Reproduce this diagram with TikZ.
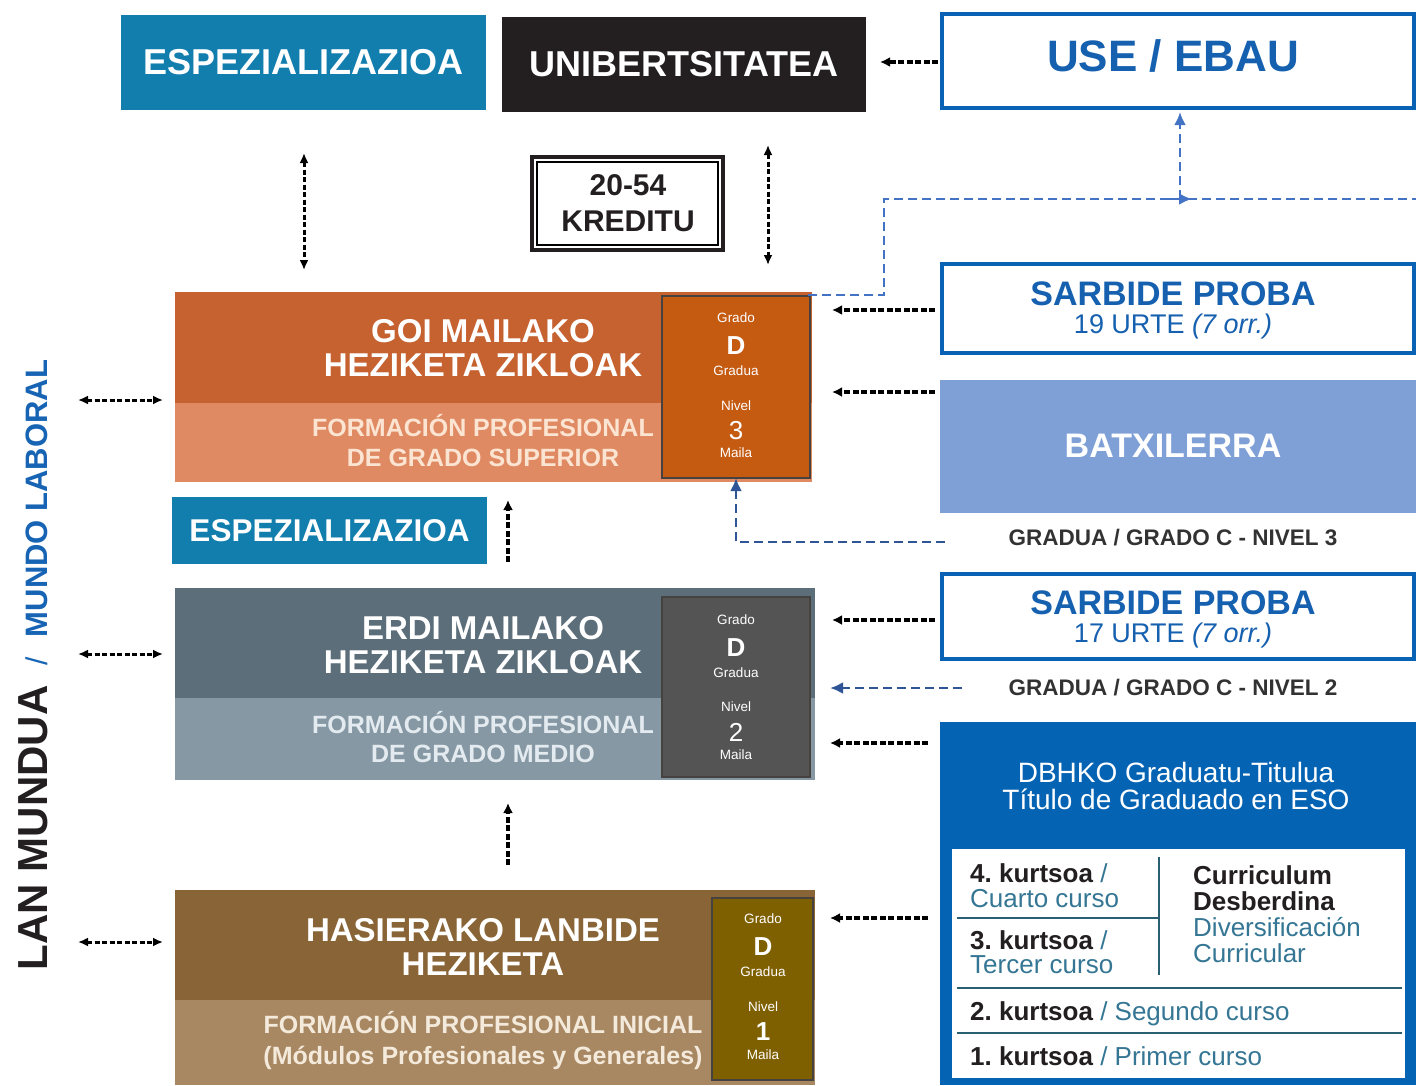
\documentclass[tikz,border=0pt]{standalone}
\usepackage{fontspec}
\setmainfont{Liberation Sans}
\usetikzlibrary{arrows.meta}
\frenchspacing
\newcommand\fsz[2]{\fontsize{#1}{#2}\selectfont}
\definecolor{cTeal}{RGB}{17,126,174}
\definecolor{cBlack}{RGB}{35,31,32}
\definecolor{cUse}{RGB}{10,98,180}
\definecolor{cUseT}{RGB}{22,96,176}
\definecolor{cBlueDash}{RGB}{68,114,196}
\definecolor{cDarkDash}{RGB}{47,85,151}
\definecolor{cGoiT}{RGB}{198,97,48}
\definecolor{cGoiB}{RGB}{223,138,98}
\definecolor{cGoiG}{RGB}{197,90,17}
\definecolor{cGoiTx}{RGB}{252,228,210}
\definecolor{cErdiT}{RGB}{91,110,122}
\definecolor{cErdiB}{RGB}{133,152,163}
\definecolor{cErdiG}{RGB}{84,84,84}
\definecolor{cErdiTx}{RGB}{228,235,240}
\definecolor{cHasT}{RGB}{137,100,54}
\definecolor{cHasB}{RGB}{168,136,98}
\definecolor{cHasG}{RGB}{127,96,0}
\definecolor{cHasTx}{RGB}{244,234,220}
\definecolor{cGB}{RGB}{70,66,64}
\definecolor{cBatx}{RGB}{127,160,214}
\definecolor{cDbh}{RGB}{5,99,180}
\definecolor{cGray}{RGB}{50,50,50}
\definecolor{cTbl}{RGB}{52,118,148}
\definecolor{cTblLine}{RGB}{40,95,115}
\definecolor{cLab}{RGB}{24,100,180}
\begin{document}
\begin{tikzpicture}[x=1pt,y=-1pt,
  blk/.style={inner sep=0pt,outer sep=0pt,anchor=north west},
  txt/.style={inner sep=0pt,outer sep=0pt,align=center},
  darr/.style={line width=3.4pt,dash pattern=on 6pt off 2.5pt,-{Latex[length=10pt,width=10pt]}},
  dbl/.style={line width=3pt,dash pattern=on 5pt off 2.5pt,{Latex[length=10pt,width=9pt]}-{Latex[length=10pt,width=9pt]}},
  bdash/.style={cBlueDash,line width=2.6pt,dash pattern=on 9pt off 5pt},
  ddash/.style={cDarkDash,line width=2.6pt,dash pattern=on 9pt off 5pt,-{Latex[length=13pt,width=12pt]}},
  gbox/.style={blk,draw=cGB,line width=2pt},
  gsm/.style={txt,text=white,font=\fsz{13.5}{14}},
  gbig/.style={txt,text=white,font=\bfseries\fsz{26}{26}},
  gnum/.style={txt,text=white,font=\fsz{26}{26}},
  rbox/.style={blk,draw=cUse,line width=4pt,fill=white},
  rtitle/.style={txt,text=cUseT,font=\bfseries\fsz{34}{34}},
  rsub/.style={txt,text=cUseT,font=\fsz{27}{27}},
  gradl/.style={txt,text=cGray,font=\bfseries\fsz{22.5}{22.5}},
  ttx/.style={inner sep=0pt,anchor=base west,font=\fsz{26}{26},text=cTbl},
  tline/.style={cTblLine,line width=2pt},
  bigw/.style={txt,text=white,font=\bfseries\fsz{33}{34}},
]
\useasboundingbox (0,0) rectangle (1416,1085);

% ---------- top row ----------
\node[blk,fill=cTeal,minimum width=365,minimum height=95,text=white,font=\bfseries\fsz{36}{36}] (espT) at (121,15) {ESPEZIALIZAZIOA};
\node[blk,fill=cBlack,minimum width=364,minimum height=95,text=white,font=\bfseries\fsz{36}{36}] (uni) at (502,17) {UNIBERTSITATEA};
\node[rbox,minimum width=472,minimum height=94] (use) at (942,14) {};
\node[txt,text=cUseT,font=\bfseries\fsz{44}{44}] (useT) at (1173,56) {USE / EBAU};
\coordinate (ua) at (938,62); \coordinate (ub) at (880,62);
\draw[darr] (ua) -- (ub);

% kreditu
\node[blk,draw=cBlack,line width=4pt,minimum width=191,minimum height=93] (kred) at (532,157) {};
\draw[line width=1.3pt] ([shift={(5,5)}]kred.north west) rectangle ([shift={(-5,-5)}]kred.south east);
\node[txt,text=cBlack,font=\bfseries\fsz{30}{36}] (kredT) at (628,203) {20-54\\KREDITU};

\coordinate (a1s) at (304,153); \coordinate (a1e) at (304,270);
\draw[dbl] (a1s) -- (a1e);
\coordinate (a2s) at (768,145); \coordinate (a2e) at (768,265);
\draw[dbl] (a2s) -- (a2e);

% ---------- goi mailako ----------
\node[blk,fill=cGoiT,minimum width=637,minimum height=111] (goiT) at (175,292) {};
\node[blk,fill=cGoiB,minimum width=637,minimum height=79] (goiB) at (175,403) {};
\node[bigw] (goiTt) at (483,348) {GOI MAILAKO\\HEZIKETA ZIKLOAK};
\node[txt,text=cGoiTx,font=\bfseries\fsz{25}{30}] (goiBt) at (483,441) {FORMACIÓN PROFESIONAL\\DE GRADO SUPERIOR};
\node[gbox,fill=cGoiG,minimum width=148,minimum height=182] (goiG) at (662,296) {};
\node[gsm] (goiG1) at (736,318) {Grado};
\node[gbig] (goiG2) at (736,346) {D};
\node[gsm] (goiG3) at (736,371) {Gradua};
\node[gsm] (goiG4) at (736,406) {Nivel};
\node[gnum] (goiG5) at (736,431) {3};
\node[gsm] (goiG6) at (736,453) {Maila};

% blue dashed route to USE
\coordinate (bl0) at (808,295);
\coordinate (bl1) at (884,295);
\coordinate (bl2) at (884,199);
\coordinate (bl3) at (1416,199);
\draw[bdash] (bl0) -- (bl1) -- (bl2) -- (bl3);
\coordinate (bj) at (1180,199);
\coordinate (bja) at (1165,199); \coordinate (bjb) at (1192,199);
\draw[cBlueDash,line width=2.6pt,-{Latex[length=13pt,width=12pt]}] (bja) -- (bjb);
\coordinate (bup) at (1180,112);
\draw[bdash,-{Latex[length=13pt,width=12pt]}] (bj) -- (bup);

% sarbide 19
\node[rbox,minimum width=472,minimum height=89] (sar1) at (942,264) {};
\node[rtitle] (sar1a) at (1173,294) {SARBIDE PROBA};
\node[rsub] (sar1b) at (1173,327) {19 URTE \textit{(7 orr.)}};
\coordinate (s1a) at (935,310); \coordinate (s1b) at (832,310);
\draw[darr] (s1a) -- (s1b);

% batxilerra
\node[blk,fill=cBatx,minimum width=476,minimum height=133] (batx) at (940,380) {};
\node[txt,text=white,font=\bfseries\fsz{34}{34}] (batxT) at (1173,446) {BATXILERRA};
\coordinate (b1a) at (935,392); \coordinate (b1b) at (832,392);
\draw[darr] (b1a) -- (b1b);

\node[gradl] (gr3) at (1173,538) {GRADUA / GRADO C - NIVEL 3};
\coordinate (g3a) at (945,542); \coordinate (g3b) at (736,542);
\draw[ddash] (g3a) -- (g3b) -- (goiG.south);

% left arrows
\coordinate (l1a) at (78,400); \coordinate (l1b) at (163,400);
\draw[dbl] (l1a) -- (l1b);
\coordinate (l2a) at (78,654); \coordinate (l2b) at (163,654);
\draw[dbl] (l2a) -- (l2b);
\coordinate (l3a) at (78,942); \coordinate (l3b) at (163,942);
\draw[dbl] (l3a) -- (l3b);

% middle espezializazioa
\node[blk,fill=cTeal,minimum width=315,minimum height=67,text=white,font=\bfseries\fsz{31.5}{32}] (espM) at (172,497) {ESPEZIALIZAZIOA};
\coordinate (m1a) at (508,562); \coordinate (m1b) at (508,500);
\draw[darr] (m1a) -- (m1b);

% ---------- erdi mailako ----------
\node[blk,fill=cErdiT,minimum width=640,minimum height=110] (erdiT) at (175,588) {};
\node[blk,fill=cErdiB,minimum width=640,minimum height=82] (erdiB) at (175,698) {};
\node[bigw] (erdiTt) at (483,645) {ERDI MAILAKO\\HEZIKETA ZIKLOAK};
\node[txt,text=cErdiTx,font=\bfseries\fsz{25}{29}] (erdiBt) at (483,737) {FORMACIÓN PROFESIONAL\\DE GRADO MEDIO};
\node[gbox,fill=cErdiG,minimum width=148,minimum height=180] (erdiG) at (662,597) {};
\node[gsm] (erdiG1) at (736,620) {Grado};
\node[gbig] (erdiG2) at (736,648) {D};
\node[gsm] (erdiG3) at (736,673) {Gradua};
\node[gsm] (erdiG4) at (736,707) {Nivel};
\node[gnum] (erdiG5) at (736,732) {2};
\node[gsm] (erdiG6) at (736,755) {Maila};

% sarbide 17
\node[rbox,minimum width=472,minimum height=85] (sar2) at (942,574) {};
\node[rtitle] (sar2a) at (1173,603) {SARBIDE PROBA};
\node[rsub] (sar2b) at (1173,636) {17 URTE \textit{(7 orr.)}};
\coordinate (s2a) at (935,620); \coordinate (s2b) at (832,620);
\draw[darr] (s2a) -- (s2b);

\node[gradl] (gr2) at (1173,688) {GRADUA / GRADO C - NIVEL 2};
\coordinate (g2a) at (962,688); \coordinate (g2b) at (830,688);
\draw[ddash] (g2a) -- (g2b);

\coordinate (e3a) at (928,743); \coordinate (e3b) at (830,743);
\draw[darr] (e3a) -- (e3b);

% ---------- DBHKO ----------
\node[blk,fill=cDbh,minimum width=476,minimum height=363] (dbh) at (940,722) {};
\node[txt,text=white,font=\fsz{28}{27}] (dbhT) at (1176,786) {DBHKO Graduatu-Titulua\\Título de Graduado en ESO};
\node[blk,fill=white,minimum width=453,minimum height=229] (dpan) at (952,849) {};
\draw[tline] (1159,857) -- (1159,975);
\draw[tline] (957,918) -- (1158,918);
\draw[tline] (957,988) -- (1402,988);
\draw[tline] (957,1033) -- (1402,1033);
\node[ttx] (k4a) at (970,882) {\textbf{\color{cBlack}4. kurtsoa} /};
\node[ttx] (k4b) at (970,907) {Cuarto curso};
\node[ttx] (k3a) at (970,949) {\textbf{\color{cBlack}3. kurtsoa} /};
\node[ttx] (k3b) at (970,973) {Tercer curso};
\node[ttx,text=cBlack,font=\bfseries\fsz{26}{26}] (cd1) at (1193,884) {Curriculum};
\node[ttx,text=cBlack,font=\bfseries\fsz{26}{26}] (cd2) at (1193,910) {Desberdina};
\node[ttx] (cd3) at (1193,936) {Diversificación};
\node[ttx] (cd4) at (1193,962) {Curricular};
\node[ttx] (k2) at (970,1020) {\textbf{\color{cBlack}2. kurtsoa} / Segundo curso};
\node[ttx] (k1) at (970,1065) {\textbf{\color{cBlack}1. kurtsoa} / Primer curso};

% ---------- hasierako ----------
\coordinate (m2a) at (508,865); \coordinate (m2b) at (508,803);
\draw[darr] (m2a) -- (m2b);
\node[blk,fill=cHasT,minimum width=640,minimum height=110] (hasT) at (175,890) {};
\node[blk,fill=cHasB,minimum width=640,minimum height=85] (hasB) at (175,1000) {};
\node[bigw] (hasTt) at (483,947) {HASIERAKO LANBIDE\\HEZIKETA};
\node[txt,text=cHasTx,font=\bfseries\fsz{25}{31}] (hasBt) at (483,1040) {FORMACIÓN PROFESIONAL INICIAL\\(Módulos Profesionales y Generales)};
\node[gbox,fill=cHasG,minimum width=101,minimum height=182] (hasG) at (712,898) {};
\node[gsm] (hasG1) at (763,919) {Grado};
\node[gbig] (hasG2) at (763,947) {D};
\node[gsm] (hasG3) at (763,972) {Gradua};
\node[gsm] (hasG4) at (763,1007) {Nivel};
\node[gbig] (hasG5) at (763,1032) {1};
\node[gsm] (hasG6) at (763,1055) {Maila};
\coordinate (h1a) at (928,918); \coordinate (h1b) at (830,918);
\draw[darr] (h1a) -- (h1b);

% ---------- left label ----------
\node[rotate=90,anchor=base,inner sep=0pt] (lab) at (47,665)
  {{\bfseries\fsz{42}{42}\color{cBlack}LAN MUNDUA}\hspace{20pt}{\fsz{30}{30}\color{cLab}/}\hspace{20pt}{\bfseries\fsz{31}{31}\color{cLab}MUNDO LABORAL}};
\end{tikzpicture}
\end{document}
